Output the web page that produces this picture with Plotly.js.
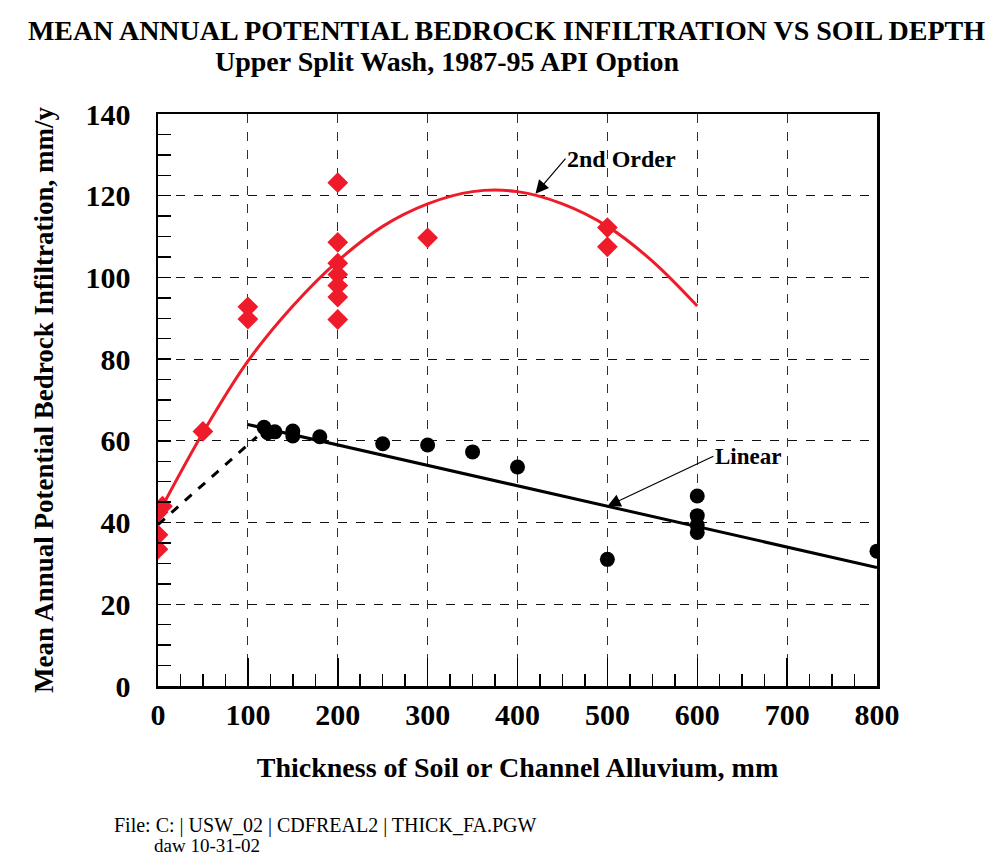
<!DOCTYPE html>
<html>
<head>
<meta charset="utf-8">
<script src="https://cdn.plot.ly/plotly-3.0.1.min.js"></script>
<style>
  html, body { margin: 0; padding: 0; background: #ffffff; }
  #chart { width: 1001px; height: 860px; }
</style>
</head>
<body>
<div id="chart"></div>
<script>
// ---- Data ----
// Red diamonds: observed infiltration (2nd-order group)
const redX = [0, 5, 0, 0, 50, 100, 100, 200, 200, 200, 200, 200, 200, 200, 300, 500, 500];
const redY = [42.5, 44, 37, 33.5, 62.3, 92.8, 89.8, 123.2, 108.6, 103.5, 100.7, 98, 95.2, 89.7, 109.7, 112.2, 107.5];

// Black circles: observed infiltration (linear group)
const blackX = [118, 122, 130, 150, 150, 180, 250, 300, 350, 400, 500, 600, 600, 600, 600, 800];
const blackY = [63.3, 62, 62.2, 62.4, 61.2, 61, 59.3, 59, 57.3, 53.6, 31, 46.5, 41.7, 39.4, 37.6, 33];

// 2nd order curve
const curveX = [0, 50, 100, 150, 200, 250, 300, 350, 400, 450, 500, 550, 600];
const curveY = [42, 62, 79.5, 93, 104, 112.5, 118, 121, 121, 118, 112.5, 104, 93];

// Linear fit line and dashed connector, read at their ends
const linX = [100, 800];
const linY = [64, 29];
const dashX = [0, 110];
const dashY = [39.5, 61];

// Tick values
const xTicks = [0, 100, 200, 300, 400, 500, 600, 700, 800];
const yTicks = [0, 20, 40, 60, 80, 100, 120, 140];

const serif = 'Liberation Serif, Times New Roman, serif';
const RED = '#ee1c2a';

const traces = [
  { x: curveX, y: curveY, type: 'scatter', mode: 'lines', line: { color: RED, width: 3, shape: 'spline' }, hoverinfo: 'skip', name: '2nd Order' },
  { x: dashX, y: dashY, type: 'scatter', mode: 'lines', line: { color: '#000', width: 3, dash: 'dash' }, hoverinfo: 'skip', name: 'connector' },
  { x: linX, y: linY, type: 'scatter', mode: 'lines', line: { color: '#000', width: 3 }, hoverinfo: 'skip', name: 'Linear' },
  { x: redX, y: redY, type: 'scatter', mode: 'markers', marker: { symbol: 'diamond', size: 16, color: RED }, name: 'red' },
  { x: blackX, y: blackY, type: 'scatter', mode: 'markers', marker: { symbol: 'circle', size: 15, color: '#000' }, name: 'black' }
];

const layout = {
  width: 1001, height: 860,
  paper_bgcolor: '#ffffff', plot_bgcolor: '#ffffff',
  showlegend: false,
  margin: { l: 158, r: 124, t: 114, b: 174 },
  title: {
    text: 'MEAN ANNUAL POTENTIAL BEDROCK INFILTRATION VS SOIL DEPTH',
    font: { family: serif, size: 28, color: '#000', weight: 700 },
    x: 0.506, xref: 'container', xanchor: 'center',
    y: 0.965, yref: 'container', yanchor: 'middle'
  },
  xaxis: {
    range: [0, 800],
    tickvals: xTicks, ticktext: xTicks.map(String),
    ticks: 'inside', ticklen: 28, tickwidth: 1.5, tickcolor: '#000',
    minor: { dtick: 25, tick0: 0, ticks: 'inside', ticklen: 12, tickwidth: 1.5, tickcolor: '#000', showgrid: false },
    showgrid: true, gridcolor: '#1d2f66', gridwidth: 1, griddash: 'dash',
    showline: true, linecolor: '#000', linewidth: 2.5, mirror: true,
    zeroline: false,
    ticklabelstandoff: 0,
    tickfont: { family: serif, size: 30, color: '#000', weight: 700 },
    title: { text: 'Thickness of Soil or Channel Alluvium, mm', font: { family: serif, size: 28, color: '#000', weight: 700 }, standoff: 28 }
  },
  yaxis: {
    range: [0, 140],
    tickvals: yTicks, ticktext: yTicks.map(String),
    ticks: 'inside', ticklen: 13, tickwidth: 1.5, tickcolor: '#000',
    minor: { dtick: 5, tick0: 0, ticks: 'inside', ticklen: 13, tickwidth: 1.5, tickcolor: '#000', showgrid: false },
    showgrid: true, gridcolor: '#111', gridwidth: 1, griddash: 'dash',
    showline: true, linecolor: '#000', linewidth: 2.5, mirror: true,
    zeroline: false,
    ticklabelstandoff: 19,
    tickfont: { family: serif, size: 30, color: '#000', weight: 700 },
    title: { text: 'Mean Annual Potential Bedrock Infiltration, mm/y', font: { family: serif, size: 27, color: '#000', weight: 700 }, standoff: 24 }
  },
  annotations: [
    { text: 'Upper Split Wash, 1987-95 API Option', xref: 'paper', yref: 'paper', x: 0.403, y: 1.091, xanchor: 'center', yanchor: 'middle', showarrow: false, font: { family: serif, size: 28, color: '#000', weight: 700 } },
    { text: '2nd Order', x: 420, y: 120.5, ax: 30, ay: -35, xanchor: 'left', yanchor: 'middle', showarrow: true, arrowhead: 2, arrowsize: 2.2, arrowwidth: 1.2, arrowcolor: '#000', font: { family: serif, size: 24, color: '#000', weight: 700 } },
    { text: 'Linear', x: 500, y: 44, ax: 106, ay: -50, xanchor: 'left', yanchor: 'middle', showarrow: true, arrowhead: 2, arrowsize: 2.2, arrowwidth: 1.2, arrowcolor: '#000', font: { family: serif, size: 23, color: '#000', weight: 700 } },
    { text: 'File: C: | USW_02 | CDFREAL2 | THICK_FA.PGW', xref: 'paper', yref: 'paper', x: -0.064, y: -0.244, xanchor: 'left', yanchor: 'middle', showarrow: false, font: { family: serif, size: 20, color: '#000' } },
    { text: 'daw 10-31-02', xref: 'paper', yref: 'paper', x: -0.008, y: -0.279, xanchor: 'left', yanchor: 'middle', showarrow: false, font: { family: serif, size: 19, color: '#000' } }
  ]
};

Plotly.newPlot('chart', traces, layout, { displayModeBar: false, staticPlot: true });
</script>
</body>
</html>
